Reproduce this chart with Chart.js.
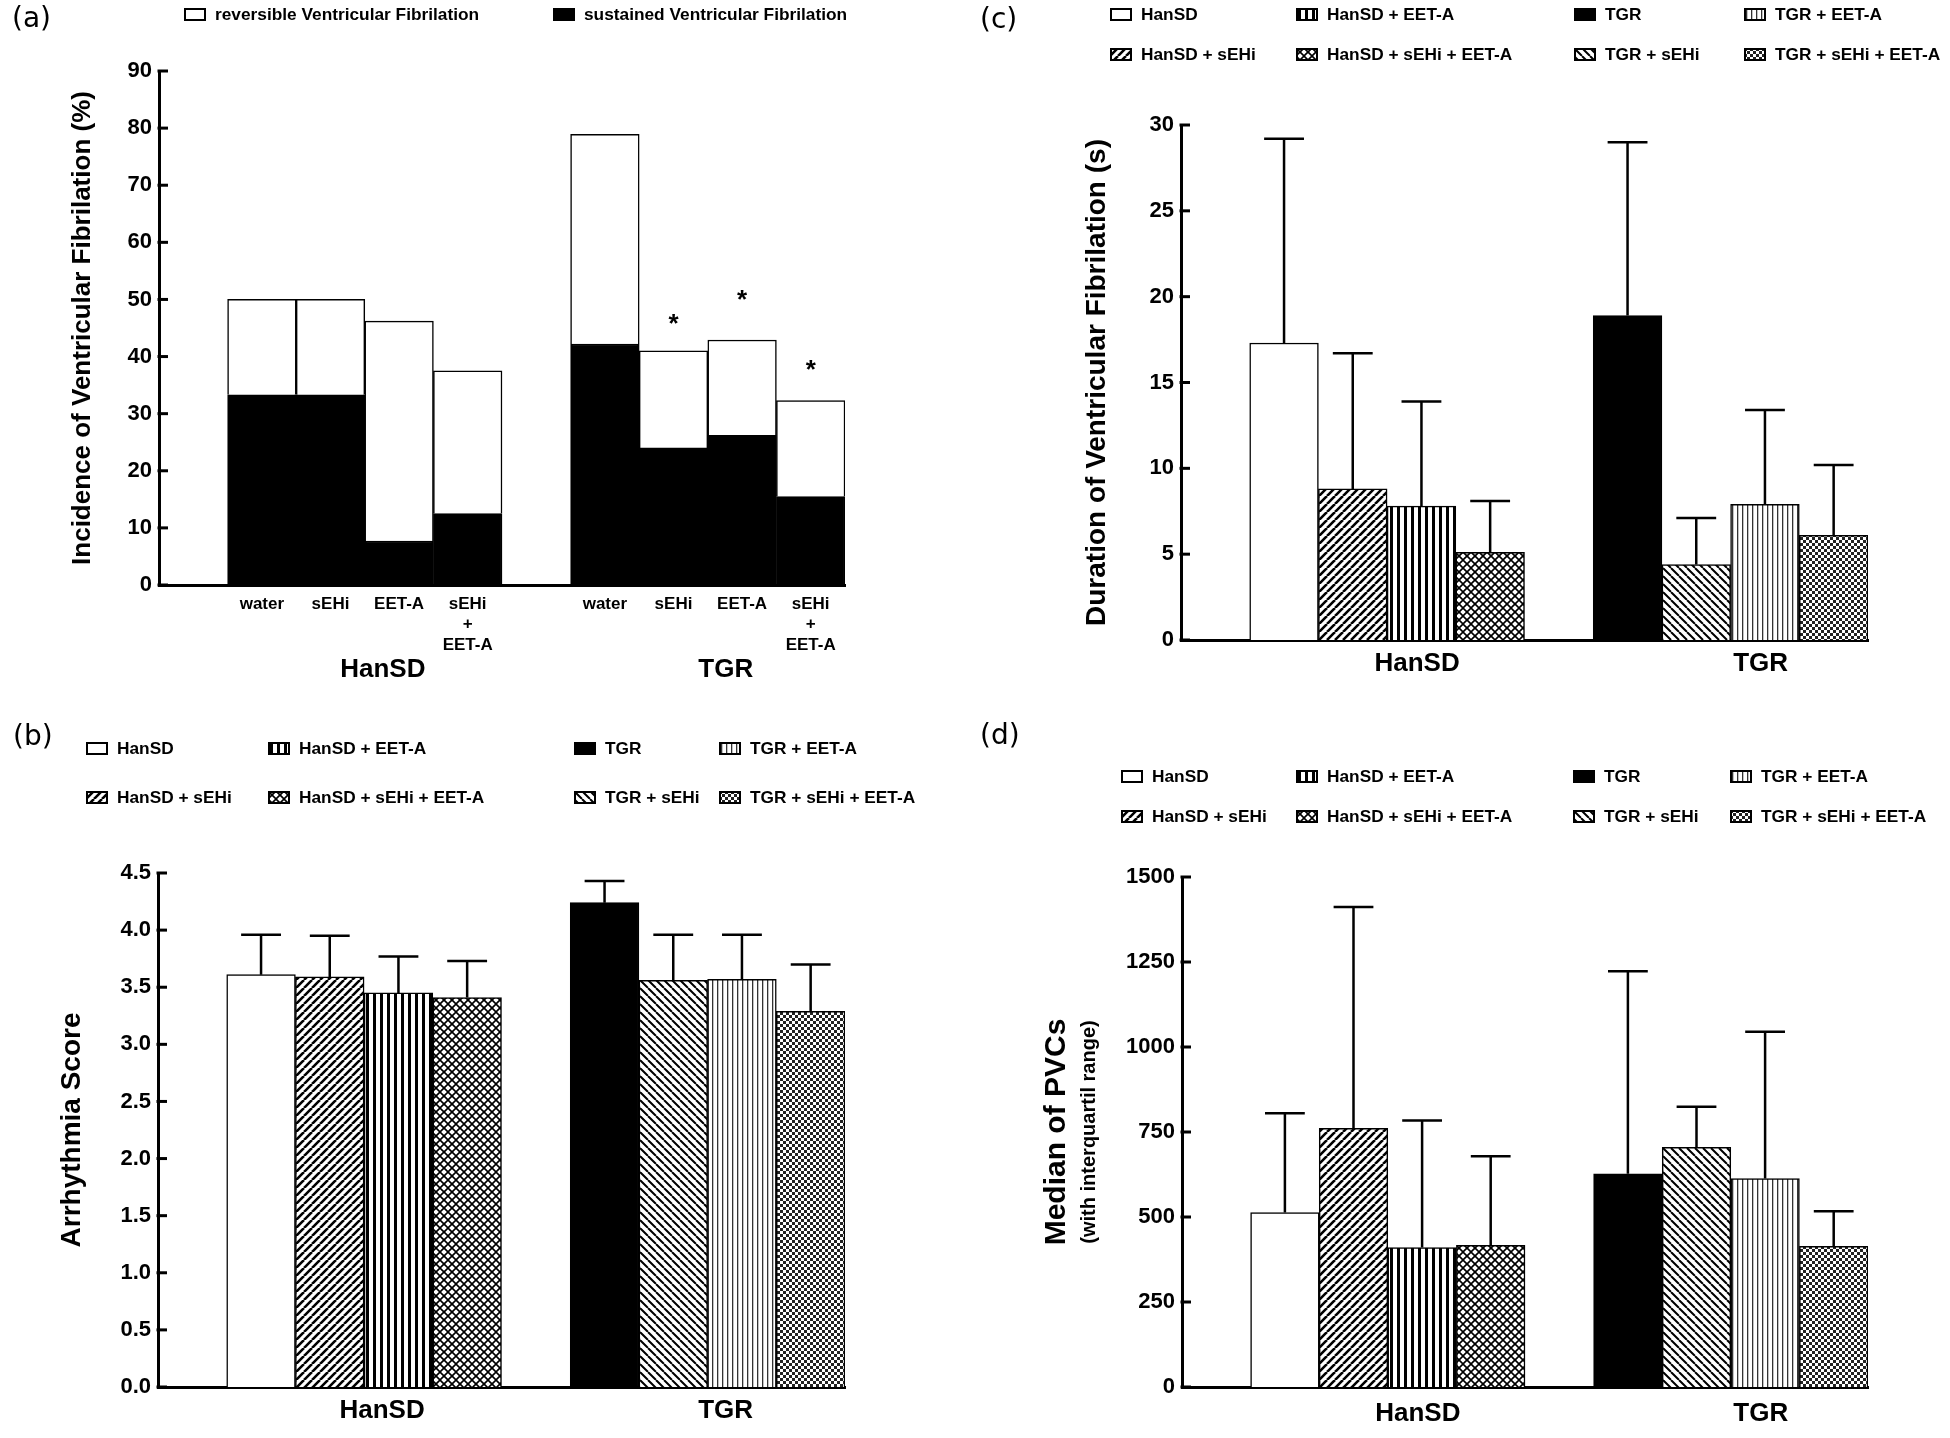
<!DOCTYPE html>
<html>
<head>
<meta charset="utf-8">
<title>Ventricular fibrillation and arrhythmia in HanSD and TGR</title>
<script src="https://cdn.jsdelivr.net/npm/chart.js@4.4.1/dist/chart.umd.min.js"></script>
<style>
  html, body { margin: 0; padding: 0; background: #fff; }
  #page { position: relative; width: 1950px; height: 1438px; overflow: hidden; color: #000;
          font-family: "Liberation Sans", Arial, sans-serif; }
  .panel { position: absolute; }
  .tag { position: absolute; font-family: "DejaVu Sans", sans-serif; font-size: 28px; line-height: 1; }
  .key { position: absolute; height: 20px; display: flex; align-items: center;
         font-weight: bold; font-size: 17.3px; white-space: nowrap; }
  .key canvas { margin-right: 9px; }
</style>
</head>
<body>
<div id="page">
  <canvas id="chartA" class="panel" width="975" height="700" style="left:0;top:0"></canvas>
  <canvas id="chartB" class="panel" width="975" height="738" style="left:0;top:700px"></canvas>
  <canvas id="chartC" class="panel" width="975" height="700" style="left:975px;top:0"></canvas>
  <canvas id="chartD" class="panel" width="975" height="738" style="left:975px;top:700px"></canvas>
  <div class="tag" style="left:12px;top:4px">(a)</div>
  <div class="tag" style="left:13px;top:722px">(b)</div>
  <div class="tag" style="left:980px;top:5px">(c)</div>
  <div class="tag" style="left:980px;top:721px">(d)</div>
</div>
<script>
// ---- panel (a): incidence of ventricular fibrillation (%) ----
const treatments = ['water', 'sEHi', 'EET-A', ['sEHi', '+', 'EET-A']];
const hansdIncidence = [50.0, 50.0, 46.2, 37.5];
const hansdSustained = [33.3, 33.3, 7.7, 12.5];
const tgrIncidence = [78.9, 41.0, 42.9, 32.3];
const tgrSustained = [42.2, 24.0, 26.2, 15.5];
const tgrStarLevel = [null, 46.5, 50.6, 38.4];
const yTicksA = [0, 10, 20, 30, 40, 50, 60, 70, 80, 90];

// ---- panels (b)-(d): eight groups ----
const strains = ['HanSD', 'TGR'];
const groupNames = ['HanSD', 'HanSD + sEHi', 'HanSD + EET-A', 'HanSD + sEHi + EET-A',
                    'TGR', 'TGR + sEHi', 'TGR + EET-A', 'TGR + sEHi + EET-A'];
const groupFills = ['white', 'diagUp', 'vert', 'cross', 'black', 'diagDown', 'vertThin', 'checker'];

const arrhythmiaScore = [3.61, 3.59, 3.45, 3.41, 4.24, 3.56, 3.57, 3.29];
const arrhythmiaScoreUpper = [3.96, 3.95, 3.77, 3.73, 4.43, 3.96, 3.96, 3.70];
const yTicksB = [0, 0.5, 1, 1.5, 2, 2.5, 3, 3.5, 4, 4.5];

const vfDuration = [17.3, 8.8, 7.8, 5.1, 18.9, 4.4, 7.9, 6.1];
const vfDurationUpper = [29.2, 16.7, 13.9, 8.1, 29.0, 7.1, 13.4, 10.2];
const yTicksC = [0, 5, 10, 15, 20, 25, 30];

const pvcMedian = [513, 761, 410, 417, 627, 705, 613, 414];
const pvcUpperQuartile = [805, 1412, 784, 679, 1223, 824, 1045, 517];
const yTicksD = [0, 250, 500, 750, 1000, 1250, 1500];

Chart.defaults.font.family = '"Liberation Sans", Arial, sans-serif';
Chart.defaults.color = '#000';

// one empty slot in front of each strain, then its four bars
function toSlots(first, second) {
  return [null, ...first, null, ...second];
}
const slotLabels = toSlots(groupNames.slice(0, 4), groupNames.slice(4)).map(v => v || '');

// small tiles for the hatched fills
function makeTile(kind) {
  const sizes = { white: 4, black: 4, diagUp: 8, diagDown: 8, vert: 7, vertThin: 5, cross: 8, checker: 6 };
  const n = sizes[kind];
  const c = document.createElement('canvas');
  c.width = n; c.height = n;
  const g = c.getContext('2d');
  g.fillStyle = kind === 'black' ? '#000' : '#fff';
  g.fillRect(0, 0, n, n);
  g.strokeStyle = '#000';
  g.fillStyle = '#000';
  if (kind === 'diagUp' || kind === 'cross') {
    g.lineWidth = kind === 'cross' ? 1.6 : 2.6;
    g.beginPath();
    for (const k of [-n, 0, n]) { g.moveTo(k, n); g.lineTo(k + n, 0); }
    g.stroke();
  }
  if (kind === 'diagDown' || kind === 'cross') {
    g.lineWidth = kind === 'cross' ? 1.6 : 2;
    g.beginPath();
    for (const k of [-n, 0, n]) { g.moveTo(k, 0); g.lineTo(k + n, n); }
    g.stroke();
  }
  if (kind === 'vert') g.fillRect(2, 0, 3, n);
  if (kind === 'vertThin') { g.fillStyle = '#333'; g.fillRect(2, 0, 1.3, n); }
  if (kind === 'checker') {
    g.fillStyle = '#222';
    g.fillRect(0, 0, 3, 3);
    g.fillRect(3, 3, 3, 3);
  }
  return c;
}

// ---- plugins ----
const errorBars = {
  id: 'errorBars',
  afterDatasetsDraw(chart) {
    const ctx = chart.ctx, y = chart.scales.y;
    chart.data.datasets.forEach((ds, di) => {
      if (!ds.errorTop) return;
      chart.getDatasetMeta(di).data.forEach((bar, i) => {
        if (ds.data[i] == null || ds.errorTop[i] == null) return;
        const top = y.getPixelForValue(ds.errorTop[i]);
        const half = bar.width * 0.29;
        ctx.save();
        ctx.strokeStyle = '#000';
        ctx.lineWidth = 2.5;
        ctx.beginPath();
        ctx.moveTo(bar.x, bar.y);
        ctx.lineTo(bar.x, top);
        ctx.moveTo(bar.x - half, top);
        ctx.lineTo(bar.x + half, top);
        ctx.stroke();
        ctx.restore();
      });
    });
  }
};

// tick marks pointing into the plot, like the original
const innerTicks = {
  id: 'innerTicks',
  afterDraw(chart) {
    const y = chart.scales.y, x0 = chart.chartArea.left, ctx = chart.ctx;
    ctx.save();
    ctx.strokeStyle = '#000';
    ctx.lineWidth = 3;
    y.ticks.forEach((t, i) => {
      const py = y.getPixelForTick(i);
      ctx.beginPath();
      ctx.moveTo(x0 - 1.5, py);
      ctx.lineTo(x0 + 9, py);
      ctx.stroke();
    });
    ctx.restore();
  }
};

const strainLabels = {
  id: 'strainLabels',
  afterDraw(chart, args, opts) {
    if (!opts || !opts.names) return;
    const x = chart.scales.x, ctx = chart.ctx;
    ctx.save();
    ctx.font = 'bold 26px "Liberation Sans", Arial, sans-serif';
    ctx.fillStyle = '#000';
    ctx.textAlign = 'center';
    ctx.textBaseline = 'middle';
    opts.names.forEach((name, k) => {
      const [a, b] = opts.spans[k];
      const cx = (x.getPixelForValue(a) + x.getPixelForValue(b)) / 2 + opts.dx;
      ctx.fillText(name, cx, chart.chartArea.bottom + opts.dy);
    });
    ctx.restore();
  }
};

const stars = {
  id: 'stars',
  afterDraw(chart, args, opts) {
    if (!opts || !opts.levels) return;
    const x = chart.scales.x, y = chart.scales.y, ctx = chart.ctx;
    ctx.save();
    ctx.font = 'bold 26px "Liberation Sans", Arial, sans-serif';
    ctx.fillStyle = '#000';
    ctx.textAlign = 'center';
    ctx.textBaseline = 'middle';
    opts.levels.forEach((v, i) => {
      if (v == null) return;
      ctx.fillText('*', x.getPixelForValue(i), y.getPixelForValue(v) + 5);
    });
    ctx.restore();
  }
};

const axisNote = {
  id: 'axisNote',
  afterDraw(chart, args, opts) {
    if (!opts || !opts.text) return;
    const y = chart.scales.y, ctx = chart.ctx, area = chart.chartArea;
    ctx.save();
    ctx.translate(y.left + opts.dx, (area.top + area.bottom) / 2);
    ctx.rotate(-Math.PI / 2);
    ctx.font = opts.font;
    ctx.fillStyle = '#000';
    ctx.textAlign = 'center';
    ctx.textBaseline = 'middle';
    ctx.fillText(opts.text, 0, 0);
    ctx.restore();
  }
};

Chart.register(errorBars, innerTicks, strainLabels, stars, axisNote);

function panelOptions(p) {
  const yTicks = { stepSize: p.ticks[1] - p.ticks[0], padding: 7, color: '#000',
                   font: { size: 22, weight: 'bold' },
                   callback: p.tickFormat || ((v) => String(v)) };
  return {
    responsive: false,
    animation: false,
    events: [],
    layout: { padding: { left: p.left, top: p.top, right: p.right, bottom: 0 } },
    datasets: { bar: { barPercentage: 1, categoryPercentage: 1, borderWidth: 1.5, borderColor: '#000' } },
    plugins: Object.assign({
      legend: { display: false },
      tooltip: { enabled: false },
      strainLabels: { names: strains, spans: [[1, 4], [6, 9]], dx: p.labelDx, dy: p.labelDy }
    }, p.plugins || {}),
    scales: {
      x: {
        stacked: true,
        grid: { display: false, drawTicks: false },
        border: { display: true, width: 3, color: '#000' },
        ticks: p.xTicks || { display: false },
        afterFit: (s) => { s.height = p.xHeight; }
      },
      y: {
        stacked: false,
        min: p.ticks[0],
        max: p.ticks[p.ticks.length - 1],
        grid: { display: false, drawTicks: false },
        border: { display: true, width: 3, color: '#000' },
        ticks: yTicks,
        title: { display: true, text: p.title, padding: 0, color: '#000',
                 font: { size: p.titleSize, weight: 'bold', lineHeight: 1 } },
        afterFit: (s) => { s.width = p.yWidth; }
      }
    }
  };
}

function groupDatasets(ctx, values, upper) {
  return groupNames.map((name, i) => {
    const own = (arr) => toSlots(
      [0, 1, 2, 3].map(k => (k === i ? arr[i] : null)),
      [4, 5, 6, 7].map(k => (k === i ? arr[i] : null)));
    return {
      label: name,
      data: own(values),
      errorTop: own(upper),
      fillKind: groupFills[i],
      backgroundColor: ctx.createPattern(makeTile(groupFills[i]), 'repeat')
    };
  });
}

// HTML legend built from the chart's datasets
function addLegend(items) {
  const page = document.getElementById('page');
  items.forEach(it => {
    const row = document.createElement('div');
    row.className = 'key';
    row.style.left = it.x + 'px';
    row.style.top = (it.y - 10) + 'px';
    const sw = document.createElement('canvas');
    sw.width = 22; sw.height = 13;
    const g = sw.getContext('2d');
    g.fillStyle = g.createPattern(makeTile(it.fill), 'repeat');
    g.fillRect(0, 0, 22, 13);
    g.strokeStyle = '#000';
    g.lineWidth = 2;
    g.strokeRect(1, 1, 20, 11);
    row.appendChild(sw);
    row.appendChild(document.createTextNode(it.text));
    page.appendChild(row);
  });
}

function gridLegend(chart, cols, rows) {
  addLegend(chart.data.datasets.map((ds, d) => ({
    x: cols[Math.floor(d / 4) * 2 + (d % 4 >= 2 ? 1 : 0)],
    y: rows[d % 2],
    text: ds.label,
    fill: ds.fillKind
  })));
}

// ---- (a) ----
const ctxA = document.getElementById('chartA').getContext('2d');
const chartA = new Chart(ctxA, {
  type: 'bar',
  data: {
    labels: toSlots(treatments, treatments).map(v => v || ''),
    datasets: [
      { label: 'sustained Ventricular Fibrilation', fillKind: 'black',
        data: toSlots(hansdSustained, tgrSustained), backgroundColor: '#000' },
      { label: 'reversible Ventricular Fibrilation', fillKind: 'white',
        data: toSlots(hansdSustained.map((s, i) => [s, hansdIncidence[i]]),
                      tgrSustained.map((s, i) => [s, tgrIncidence[i]])),
        backgroundColor: '#fff' }
    ]
  },
  options: panelOptions({
    left: 70, top: 71, right: 130, yWidth: 89, xHeight: 115,
    ticks: yTicksA, title: 'Incidence of Ventricular Fibrilation (%)', titleSize: 26,
    labelDx: 18, labelDy: 85,
    xTicks: { display: true, autoSkip: false, maxRotation: 0, padding: 9, color: '#000',
              font: { size: 17, weight: 'bold' } },
    plugins: { stars: { levels: toSlots([null, null, null, null], tgrStarLevel) } }
  })
});
addLegend([
  { x: 184, y: 14, text: chartA.data.datasets[1].label, fill: 'white' },
  { x: 553, y: 14, text: chartA.data.datasets[0].label, fill: 'black' }
]);

// ---- (b) ----
const ctxB = document.getElementById('chartB').getContext('2d');
const chartB = new Chart(ctxB, {
  type: 'bar',
  data: { labels: slotLabels, datasets: groupDatasets(ctxB, arrhythmiaScore, arrhythmiaScoreUpper) },
  options: panelOptions({
    left: 58, top: 173, right: 130, yWidth: 100, xHeight: 51,
    ticks: yTicksB, title: 'Arrhythmia Score', titleSize: 28,
    tickFormat: (v) => Number(v).toFixed(1),
    labelDx: 18, labelDy: 24
  })
});
gridLegend(chartB, [86, 268, 574, 719], [748, 797]);

// ---- (c) ----
const ctxC = document.getElementById('chartC').getContext('2d');
const chartC = new Chart(ctxC, {
  type: 'bar',
  data: { labels: slotLabels, datasets: groupDatasets(ctxC, vfDuration, vfDurationUpper) },
  options: panelOptions({
    left: 108, top: 125, right: 82, yWidth: 98, xHeight: 60,
    ticks: yTicksC, title: 'Duration of Ventricular Fibrilation (s)', titleSize: 28,
    labelDx: 30, labelDy: 24
  })
});
gridLegend(chartC, [1110, 1296, 1574, 1744], [14, 54]);

// ---- (d) ----
const ctxD = document.getElementById('chartD').getContext('2d');
const chartD = new Chart(ctxD, {
  type: 'bar',
  data: { labels: slotLabels, datasets: groupDatasets(ctxD, pvcMedian, pvcUpperQuartile) },
  options: panelOptions({
    left: 67, top: 177, right: 82, yWidth: 140, xHeight: 51,
    ticks: yTicksD, title: 'Median of PVCs', titleSize: 30,
    labelDx: 30, labelDy: 27,
    plugins: { axisNote: { text: '(with interquartil range)', dx: 47,
                           font: 'bold 20px "Liberation Sans", Arial, sans-serif' } }
  })
});
gridLegend(chartD, [1121, 1296, 1573, 1730], [776, 816]);
</script>
</body>
</html>
